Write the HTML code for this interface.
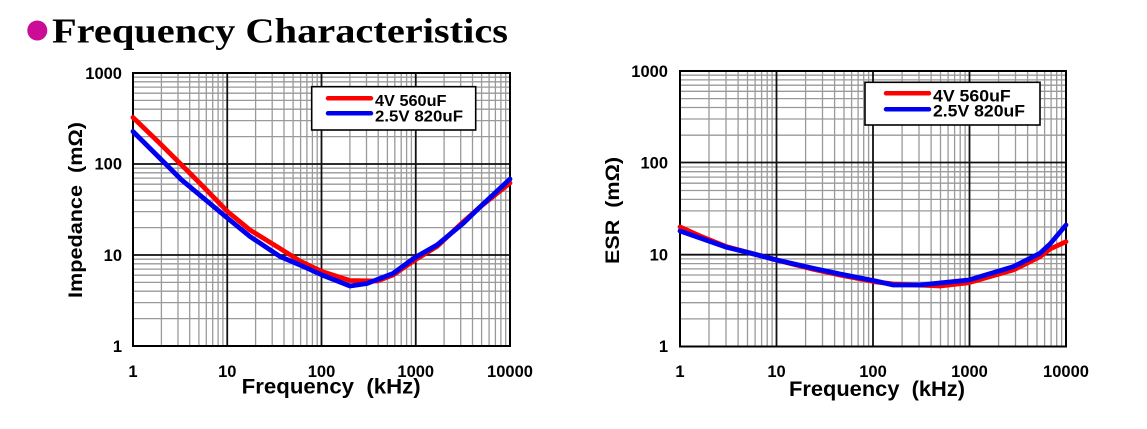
<!DOCTYPE html>
<html><head><meta charset="utf-8"><style>
html,body{margin:0;padding:0;background:#fff;width:1147px;height:429px;overflow:hidden}
svg{display:block}
text{font-family:"Liberation Sans",Arial,sans-serif;font-weight:bold;fill:#000;white-space:pre}
</style></head><body>
<svg width="1147" height="429" viewBox="0 0 1147 429" xmlns="http://www.w3.org/2000/svg" xml:space="preserve">
<rect width="1147" height="429" fill="#fff"/>
<!-- Title -->
<circle cx="37.3" cy="30.5" r="10" fill="#cc0c96"/>
<text x="52" y="42.5" style="font-family:'Liberation Serif','Times New Roman',serif;font-size:35px;font-weight:bold" textLength="456" lengthAdjust="spacingAndGlyphs">Frequency Characteristics</text>

<!-- LEFT CHART -->
<g fill="none" stroke="#9a9a9a" stroke-width="1.3">
<path d="M161.4 73V346M178 73V346M189.7 73V346M198.9 73V346M206.3 73V346M212.7 73V346M218.1 73V346M222.9 73V346
M255.6 73V346M272.2 73V346M284 73V346M293.1 73V346M300.6 73V346M306.9 73V346M312.4 73V346M317.2 73V346
M349.9 73V346M366.5 73V346M378.2 73V346M387.4 73V346M394.8 73V346M401.2 73V346M406.6 73V346M411.4 73V346
M444.1 73V346M460.7 73V346M472.5 73V346M481.6 73V346M489.1 73V346M495.4 73V346M500.9 73V346M505.7 73V346"/>
<path d="M133 318.6H510M133 302.6H510M133 291.2H510M133 282.4H510M133 275.2H510M133 269.1H510M133 263.8H510M133 259.2H510
M133 227.6H510M133 211.6H510M133 200.2H510M133 191.4H510M133 184.2H510M133 178.1H510M133 172.8H510M133 168.2H510
M133 136.6H510M133 120.6H510M133 109.2H510M133 100.4H510M133 93.2H510M133 87.1H510M133 81.8H510M133 77.2H510"/>
</g>
<g fill="none" stroke="#111" stroke-width="1.8">
<path d="M227.25 73V346M321.5 73V346M415.75 73V346M133 255H510M133 164H510"/>
</g>
<rect x="133" y="73" width="377" height="273" fill="none" stroke="#000" stroke-width="2"/>
<!-- legend left -->
<rect x="311.7" y="86.7" width="164" height="43.3" fill="#fff" stroke="#000" stroke-width="1.6"/>
<line x1="328" y1="98.3" x2="371" y2="98.3" stroke="#f00" stroke-width="4.5" stroke-linecap="round"/>
<line x1="328" y1="113.3" x2="371" y2="113.3" stroke="#0000f0" stroke-width="4.5" stroke-linecap="round"/>
<text x="375" y="106" font-size="16" textLength="71.5" lengthAdjust="spacingAndGlyphs">4V 560uF</text>
<text x="375" y="121.7" font-size="16" textLength="88" lengthAdjust="spacingAndGlyphs">2.5V 820uF</text>
<!-- curves left -->
<polyline fill="none" stroke="#f00" stroke-width="4.8" stroke-linejoin="round" stroke-linecap="round"
 points="133,117.5 160,143.5 196.7,180 227.7,211.7 250,230 280,248.5 300,261 322,271.5 350,280.5 377,281 393,275 415,260 437,246.5 463,222 480,207 510,183"/>
<polyline fill="none" stroke="#0000f0" stroke-width="4.8" stroke-linejoin="round" stroke-linecap="round"
 points="133,131.5 181.7,180 227.7,218.3 250,236.5 280,256.5 300,265 322,275 350,286 367,283.5 393,273.5 415,257.5 437,245 463,223.5 480,207 510,179"/>
<!-- y tick labels left -->
<g font-size="16.5" text-anchor="end">
<text x="122" y="78.9">1000</text>
<text x="122" y="169.7">100</text>
<text x="122" y="261.2">10</text>
<text x="122" y="351.9">1</text>
</g>
<g font-size="16.5" text-anchor="middle">
<text x="133" y="376.9">1</text>
<text x="227.25" y="376.9">10</text>
<text x="321.5" y="376.9">100</text>
<text x="415.75" y="376.9">1000</text>
<text x="510" y="376.9">10000</text>
</g>
<text x="241.7" y="393.3" font-size="21" textLength="179" lengthAdjust="spacingAndGlyphs">Frequency  (kHz)</text>
<text transform="translate(82,298) rotate(-90)" x="0" y="0" font-size="19.5" textLength="176" lengthAdjust="spacingAndGlyphs">Impedance  (mΩ)</text>

<!-- RIGHT CHART -->
<g fill="none" stroke="#9a9a9a" stroke-width="1.3">
<path d="M709 71V346.5M726 71V346.5M738.1 71V346.5M747.5 71V346.5M755.1 71V346.5M761.6 71V346.5M767.2 71V346.5M772.1 71V346.5
M805.6 71V346.5M822.5 71V346.5M834.6 71V346.5M844 71V346.5M851.6 71V346.5M858.1 71V346.5M863.7 71V346.5M868.6 71V346.5
M902.1 71V346.5M919 71V346.5M931.1 71V346.5M940.5 71V346.5M948.1 71V346.5M954.6 71V346.5M960.2 71V346.5M965.1 71V346.5
M998.6 71V346.5M1015.5 71V346.5M1027.6 71V346.5M1037 71V346.5M1044.6 71V346.5M1051.1 71V346.5M1056.7 71V346.5M1061.6 71V346.5"/>
<path d="M680 318.9H1066M680 302.7H1066M680 291.2H1066M680 282.3H1066M680 275H1066M680 268.9H1066M680 263.6H1066M680 258.9H1066
M680 227H1066M680 210.9H1066M680 199.4H1066M680 190.5H1066M680 183.2H1066M680 177.1H1066M680 171.7H1066M680 167H1066
M680 135.2H1066M680 119H1066M680 107.5H1066M680 98.6H1066M680 91.3H1066M680 85.2H1066M680 79.9H1066M680 75.2H1066"/>
</g>
<g fill="none" stroke="#111" stroke-width="1.8">
<path d="M776.5 71V346.5M873 71V346.5M969.5 71V346.5M680 254.7H1066M680 162.5H1066"/>
</g>
<rect x="680" y="71" width="386" height="275.5" fill="none" stroke="#000" stroke-width="2"/>
<!-- legend right -->
<rect x="865" y="82.3" width="175" height="42.7" fill="#fff" stroke="#000" stroke-width="1.6"/>
<line x1="886" y1="93.3" x2="929" y2="93.3" stroke="#f00" stroke-width="4.5" stroke-linecap="round"/>
<line x1="886" y1="109.3" x2="929" y2="109.3" stroke="#0000f0" stroke-width="4.5" stroke-linecap="round"/>
<text x="933" y="101.7" font-size="16.5" textLength="77.7" lengthAdjust="spacingAndGlyphs">4V 560uF</text>
<text x="933" y="116.7" font-size="16.5" textLength="92" lengthAdjust="spacingAndGlyphs">2.5V 820uF</text>
<!-- curves right -->
<polyline fill="none" stroke="#f00" stroke-width="4.8" stroke-linejoin="round" stroke-linecap="round"
 points="680,227 700,236 726.7,246.7 750,253 776.7,260 813.3,269.3 840,275 874.3,281.7 893.3,284 940,286 968.7,282.7 1013.3,270 1040,256.7 1050,249 1066,241.7"/>
<polyline fill="none" stroke="#0000f0" stroke-width="4.8" stroke-linejoin="round" stroke-linecap="round"
 points="680,231 700,238 726.7,247.3 750,253 776.7,260 813.3,268.3 840,274 874.3,280.7 893.3,285 920,285 968.7,280 1013.3,266.7 1040,253.3 1050,244 1066,225"/>
<g font-size="16.5" text-anchor="end">
<text x="668" y="76.9">1000</text>
<text x="668" y="168.5">100</text>
<text x="668" y="260.7">10</text>
<text x="668" y="352.2">1</text>
</g>
<g font-size="16.5" text-anchor="middle">
<text x="680" y="376.9">1</text>
<text x="776.5" y="376.9">10</text>
<text x="873" y="376.9">100</text>
<text x="969.5" y="376.9">1000</text>
<text x="1066" y="376.9">10000</text>
</g>
<text x="789" y="396" font-size="21" textLength="176" lengthAdjust="spacingAndGlyphs">Frequency  (kHz)</text>
<text transform="translate(619,264) rotate(-90)" x="0" y="0" font-size="19.5" textLength="107" lengthAdjust="spacingAndGlyphs">ESR  (mΩ)</text>
</svg>
</body></html>
